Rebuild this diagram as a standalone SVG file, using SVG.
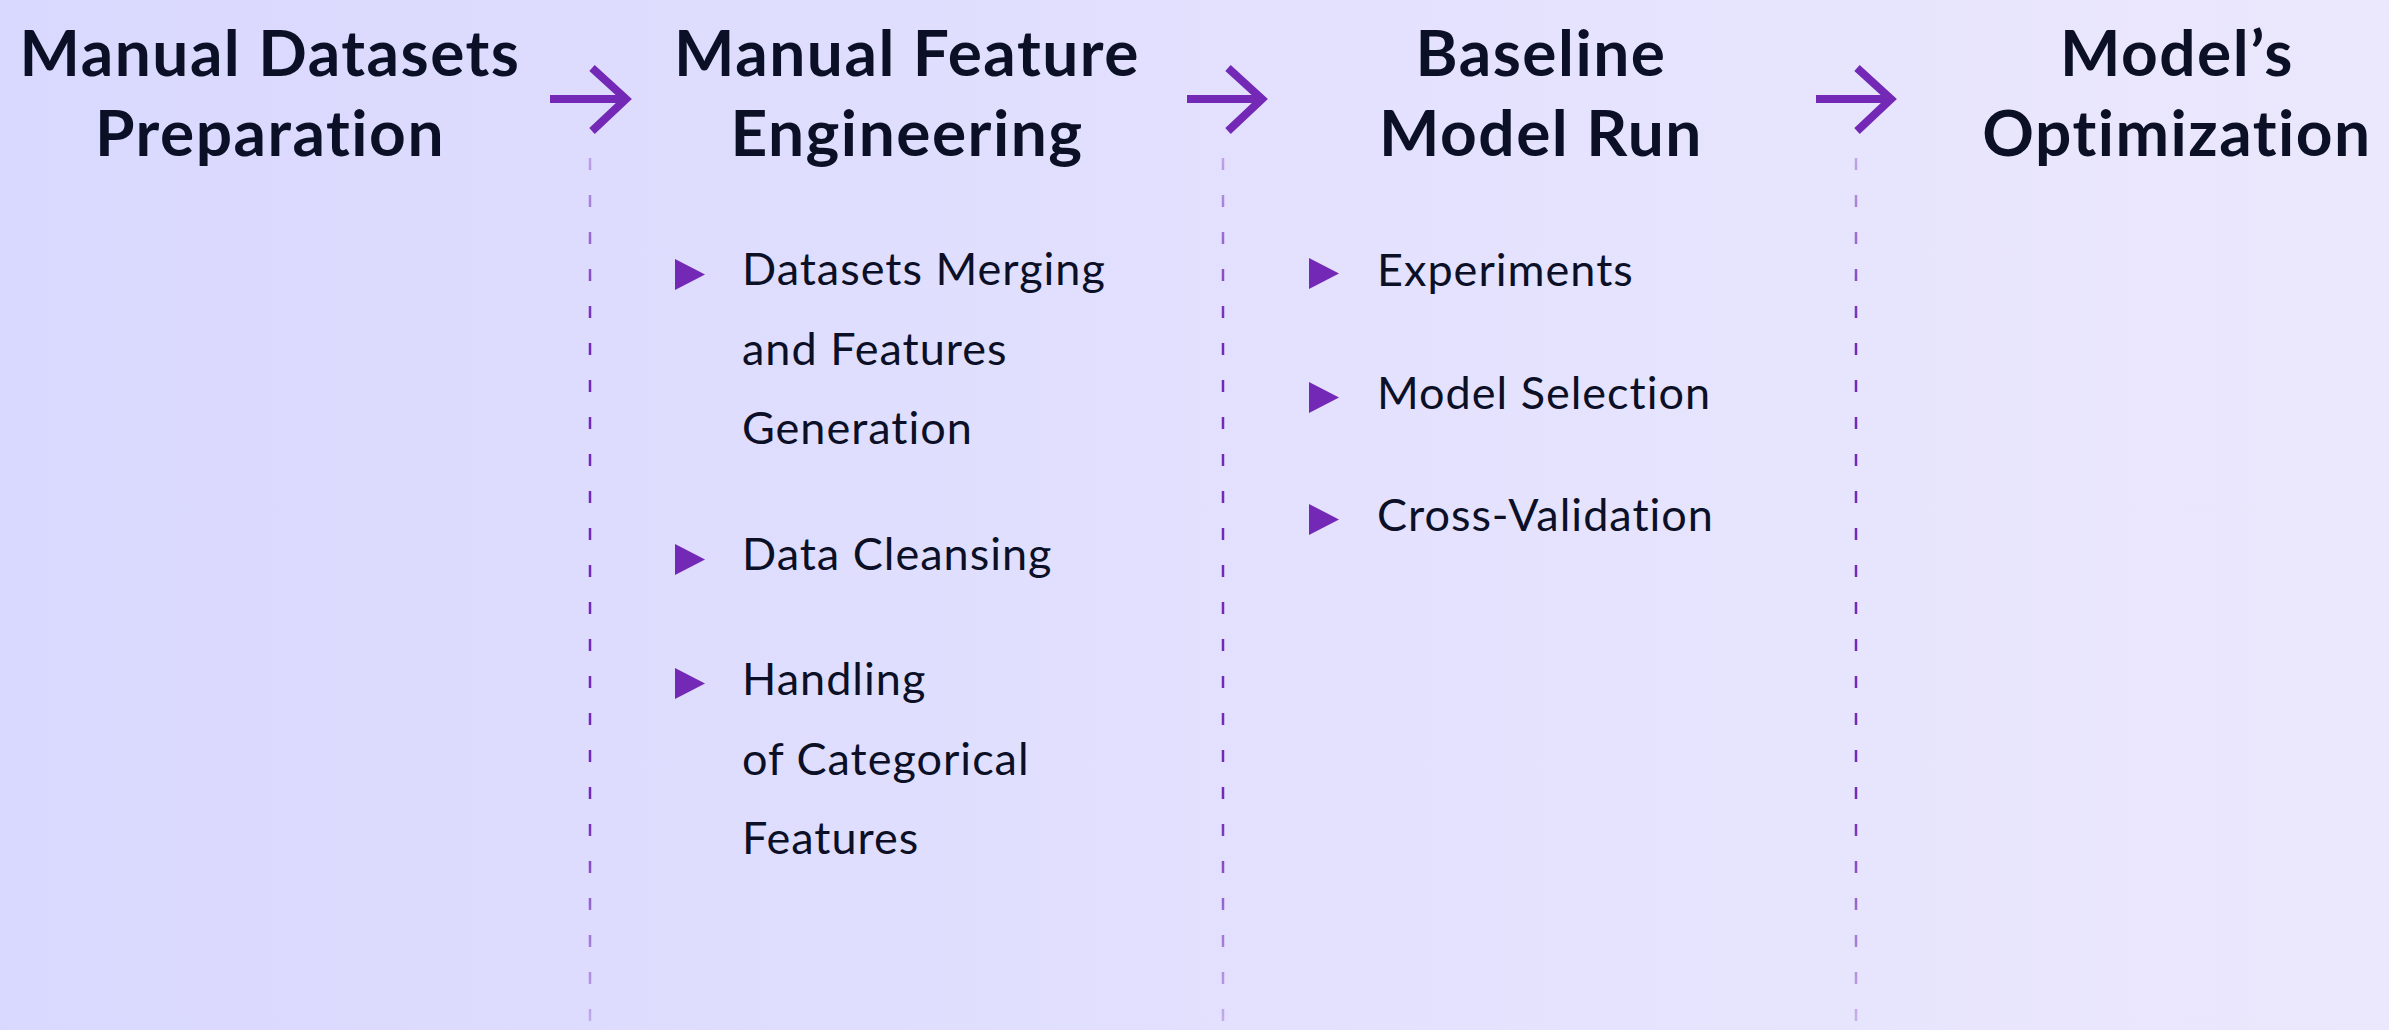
<svg xmlns="http://www.w3.org/2000/svg" width="2389" height="1030" viewBox="0 0 2389 1030">
  <defs>
    <linearGradient id="bg" x1="0" y1="0" x2="1" y2="0">
      <stop offset="0" stop-color="#d9d8fe"/>
      <stop offset="1" stop-color="#ebe8fd"/>
    </linearGradient>
    <linearGradient id="dash" gradientUnits="userSpaceOnUse" x1="0" y1="150" x2="0" y2="1030">
      <stop offset="0" stop-color="#7329b5" stop-opacity="0.3"/>
      <stop offset="0.2" stop-color="#7329b5" stop-opacity="1"/>
      <stop offset="0.75" stop-color="#7329b5" stop-opacity="1"/>
      <stop offset="1" stop-color="#7329b5" stop-opacity="0.25"/>
    </linearGradient>
  </defs>
  <style>
    .title { font-family: Lato, "Noto Sans", sans-serif; font-weight: 700; font-size: 64px; letter-spacing: 1.5px; fill: #0c1027; text-anchor: middle; }
    .item { font-family: Lato, "Noto Sans", sans-serif; font-weight: 400; font-size: 45px; letter-spacing: 1px; fill: #0c1027; }
    .arrow { fill: none; stroke: #7329b5; stroke-width: 8; }
    .sep { stroke: url(#dash); stroke-width: 2.5; stroke-dasharray: 12 25; fill: none; }
    .tri { fill: #7329b5; }
  </style>
  <rect width="2389" height="1030" fill="url(#bg)"/>

  <g id="connectors">
    <g id="arrow1"><path class="arrow" d="M550,99 H626"/><path class="arrow" d="M592,68 L626,99 L592,131"/></g>
    <g id="arrow2"><path class="arrow" d="M1187,99 H1262"/><path class="arrow" d="M1228,68 L1262,99 L1228,131"/></g>
    <g id="arrow3"><path class="arrow" d="M1816,99 H1891"/><path class="arrow" d="M1857,68 L1891,99 L1857,131"/></g>
    <path class="sep" d="M590,158 V1030"/>
    <path class="sep" d="M1223,158 V1030"/>
    <path class="sep" d="M1856,158 V1030"/>
  </g>

  <g id="node-datasets-preparation">
    <text class="title" x="270" y="76">Manual Datasets</text>
    <text class="title" x="270" y="156">Preparation</text>
  </g>

  <g id="node-feature-engineering">
    <text class="title" x="907" y="76">Manual Feature</text>
    <text class="title" x="907" y="156">Engineering</text>
    <path class="tri" d="M675,259 L705,274.5 L675,290 Z"/>
    <text class="item" x="742" y="285">Datasets Merging</text>
    <text class="item" x="742" y="365">and Features</text>
    <text class="item" x="742" y="444">Generation</text>
    <path class="tri" d="M675,544 L705,559.5 L675,575 Z"/>
    <text class="item" x="742" y="570">Data Cleansing</text>
    <path class="tri" d="M675,668 L705,683.5 L675,699 Z"/>
    <text class="item" x="742" y="695">Handling</text>
    <text class="item" x="742" y="775">of Categorical</text>
    <text class="item" x="742" y="854">Features</text>
  </g>

  <g id="node-baseline-model-run">
    <text class="title" x="1541" y="76">Baseline</text>
    <text class="title" x="1541" y="156">Model Run</text>
    <path class="tri" d="M1309,258 L1339,273.5 L1309,289 Z"/>
    <text class="item" x="1377" y="286">Experiments</text>
    <path class="tri" d="M1309,382 L1339,397.5 L1309,413 Z"/>
    <text class="item" x="1377" y="409">Model Selection</text>
    <path class="tri" d="M1309,504 L1339,519.5 L1309,535 Z"/>
    <text class="item" x="1377" y="531">Cross-Validation</text>
  </g>

  <g id="node-model-optimization">
    <text class="title" x="2177" y="76">Model’s</text>
    <text class="title" x="2177" y="156">Optimization</text>
  </g>
</svg>
